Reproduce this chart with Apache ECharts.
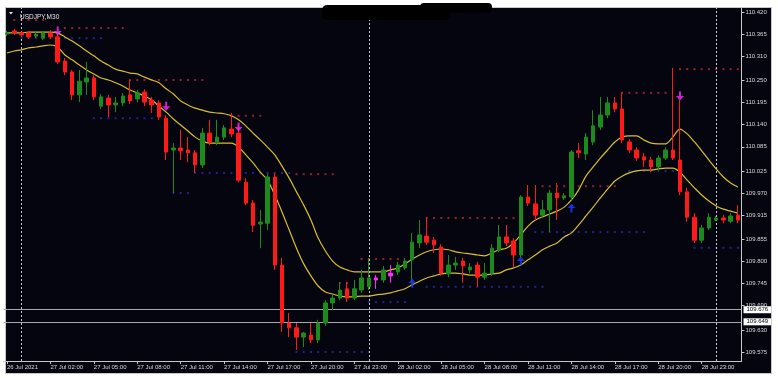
<!DOCTYPE html>
<html><head><meta charset="utf-8">
<script src="https://cdn.jsdelivr.net/npm/echarts@6/dist/echarts.min.js"></script>
<style>html,body{margin:0;padding:0;background:#fff}#c{width:778px;height:378px}</style>
</head><body><div id="c"></div>
<script>
// ---- DATA ----
const categories = [
'26 Jul 23:00','26 Jul 23:30',
'27 Jul 00:00','27 Jul 00:30','27 Jul 01:00','27 Jul 01:30','27 Jul 02:00','27 Jul 02:30','27 Jul 03:00','27 Jul 03:30',
'27 Jul 04:00','27 Jul 04:30','27 Jul 05:00','27 Jul 05:30','27 Jul 06:00','27 Jul 06:30','27 Jul 07:00','27 Jul 07:30',
'27 Jul 08:00','27 Jul 08:30','27 Jul 09:00','27 Jul 09:30','27 Jul 10:00','27 Jul 10:30','27 Jul 11:00','27 Jul 11:30',
'27 Jul 12:00','27 Jul 12:30','27 Jul 13:00','27 Jul 13:30','27 Jul 14:00','27 Jul 14:30','27 Jul 15:00','27 Jul 15:30',
'27 Jul 16:00','27 Jul 16:30','27 Jul 17:00','27 Jul 17:30','27 Jul 18:00','27 Jul 18:30','27 Jul 19:00','27 Jul 19:30',
'27 Jul 20:00','27 Jul 20:30','27 Jul 21:00','27 Jul 21:30','27 Jul 22:00','27 Jul 22:30','27 Jul 23:00','27 Jul 23:30',
'28 Jul 00:00','28 Jul 00:30','28 Jul 01:00','28 Jul 01:30','28 Jul 02:00','28 Jul 02:30','28 Jul 03:00','28 Jul 03:30',
'28 Jul 04:00','28 Jul 04:30','28 Jul 05:00','28 Jul 05:30','28 Jul 06:00','28 Jul 06:30','28 Jul 07:00','28 Jul 07:30',
'28 Jul 08:00','28 Jul 08:30','28 Jul 09:00','28 Jul 09:30','28 Jul 10:00','28 Jul 10:30','28 Jul 11:00','28 Jul 11:30',
'28 Jul 12:00','28 Jul 12:30','28 Jul 13:00','28 Jul 13:30','28 Jul 14:00','28 Jul 14:30','28 Jul 15:00','28 Jul 15:30',
'28 Jul 16:00','28 Jul 16:30','28 Jul 17:00','28 Jul 17:30','28 Jul 18:00','28 Jul 18:30','28 Jul 19:00','28 Jul 19:30',
'28 Jul 20:00','28 Jul 20:30','28 Jul 21:00','28 Jul 21:30','28 Jul 22:00','28 Jul 22:30','28 Jul 23:00','28 Jul 23:30',
'29 Jul 00:00','29 Jul 00:30','29 Jul 01:00','29 Jul 01:30'];

const xTickLabels = ['26 Jul 2021','27 Jul 02:00','27 Jul 05:00','27 Jul 08:00','27 Jul 11:00','27 Jul 14:00',
'27 Jul 17:00','27 Jul 20:00','27 Jul 23:00','28 Jul 02:00','28 Jul 05:00','28 Jul 08:00','28 Jul 11:00',
'28 Jul 14:00','28 Jul 17:00','28 Jul 20:00','28 Jul 23:00'];

const priceTicks = [109.575,109.630,109.690,109.745,109.800,109.855,109.915,109.970,110.025,110.085,
110.140,110.195,110.250,110.310,110.365,110.420];

const opens = [110.365,110.373,110.368,110.368,110.360,110.355,110.368,110.358,110.298,110.271,
110.214,110.246,110.256,110.186,110.206,110.189,110.194,110.214,110.204,110.221,
110.201,110.194,110.156,110.077,110.082,110.077,110.070,110.040,110.119,110.097,
110.109,110.129,110.119,109.997,109.945,109.893,109.895,110.010,109.791,109.647,
109.635,109.612,109.617,109.605,109.647,109.697,109.709,109.732,109.709,109.729,
109.737,109.754,109.754,109.764,109.774,109.784,109.804,109.846,109.863,109.853,
109.836,109.769,109.791,109.801,109.779,109.791,109.761,109.771,109.828,109.861,
109.851,109.816,109.960,109.943,109.915,109.928,109.970,109.958,109.960,110.075,
110.067,110.097,110.134,110.164,110.194,110.179,110.097,110.077,110.060,110.052,
110.035,110.057,110.077,110.052,109.973,109.910,109.853,109.883,109.903,109.908,
109.900,109.915];
const closes = [110.368,110.368,110.363,110.358,110.365,110.368,110.358,110.296,110.271,110.214,
110.248,110.256,110.209,110.209,110.189,110.194,110.211,110.199,110.219,110.196,
110.189,110.159,110.072,110.082,110.075,110.070,110.040,110.119,110.097,110.109,
110.132,110.117,110.002,109.945,109.890,109.898,110.010,109.791,109.647,109.635,
109.612,109.622,109.605,109.647,109.697,109.709,109.729,109.709,109.732,109.759,
109.759,109.759,109.779,109.771,109.791,109.801,109.848,109.866,109.848,109.841,
109.771,109.791,109.796,109.789,109.786,109.761,109.771,109.833,109.861,109.846,
109.816,109.960,109.945,109.915,109.928,109.970,109.958,109.963,110.072,110.070,
110.109,110.137,110.164,110.194,110.179,110.102,110.077,110.057,110.052,110.035,
110.057,110.077,110.057,109.973,109.910,109.853,109.883,109.910,109.908,109.903,
109.913,109.903];
const lows = [110.360,110.363,110.358,110.353,110.355,110.350,110.353,110.291,110.263,110.201,
110.196,110.214,110.201,110.179,110.159,110.171,110.186,110.191,110.196,110.186,
110.169,110.152,110.052,109.970,110.052,110.047,110.020,110.032,110.089,110.089,
110.102,110.109,109.997,109.940,109.873,109.833,109.878,109.779,109.625,109.612,
109.580,109.587,109.597,109.597,109.640,109.679,109.704,109.699,109.704,109.722,
109.729,109.732,109.747,109.747,109.766,109.779,109.747,109.833,109.841,109.821,
109.764,109.761,109.779,109.747,109.771,109.737,109.754,109.764,109.823,109.838,
109.786,109.809,109.938,109.903,109.908,109.873,109.903,109.953,109.953,110.057,
110.052,110.089,110.127,110.156,110.171,110.094,110.070,110.050,110.035,110.022,
110.027,110.052,110.052,109.965,109.898,109.846,109.846,109.878,109.900,109.895,
109.895,109.895];
const highs = [110.373,110.378,110.372,110.373,110.370,110.373,110.375,110.365,110.306,110.276,
110.276,110.296,110.263,110.216,110.214,110.209,110.219,110.251,110.226,110.228,
110.209,110.201,110.164,110.094,110.127,110.109,110.077,110.132,110.152,110.152,
110.139,110.169,110.139,110.007,109.953,109.928,110.017,110.020,109.809,109.672,
109.647,109.625,109.647,109.655,109.704,109.719,109.749,109.749,109.754,109.779,
109.809,109.766,109.789,109.791,109.799,109.809,109.871,109.903,109.910,109.861,
109.843,109.816,109.811,109.809,109.796,109.799,109.796,109.843,109.891,109.891,
109.858,109.965,109.990,109.990,109.953,109.978,109.995,109.970,110.077,110.094,
110.119,110.176,110.209,110.209,110.209,110.221,110.104,110.084,110.070,110.060,
110.064,110.084,110.281,110.201,109.983,109.920,109.891,109.920,109.913,109.915,
109.920,109.940];
const magentaBars = [51, 53];

const upperBand = [110.368,110.368,110.368,110.370,110.370,110.370,110.370,110.368,110.358,110.348,
110.336,110.323,110.311,110.298,110.288,110.278,110.273,110.268,110.266,110.258,
110.251,110.244,110.229,110.216,110.199,110.189,110.181,110.176,110.171,110.169,
110.167,110.162,110.152,110.137,110.119,110.102,110.084,110.065,110.037,110.007,
109.973,109.940,109.903,109.858,109.826,109.801,109.786,109.779,109.774,109.774,
109.774,109.774,109.774,109.779,109.784,109.794,109.806,109.816,109.824,109.829,
109.831,109.829,109.824,109.821,109.819,109.816,109.814,109.821,109.829,109.833,
109.846,109.866,109.888,109.903,109.911,109.918,109.925,109.935,109.953,109.978,
110.012,110.035,110.057,110.077,110.097,110.109,110.112,110.112,110.102,110.094,
110.092,110.092,110.109,110.129,110.117,110.097,110.075,110.052,110.030,110.010,
109.995,109.985];
const lowerBand = [110.318,110.323,110.326,110.331,110.333,110.336,110.338,110.333,110.313,110.301,
110.288,110.276,110.266,110.256,110.251,110.244,110.236,110.226,110.219,110.211,
110.201,110.186,110.171,110.154,110.139,110.124,110.109,110.099,110.094,110.094,
110.094,110.094,110.084,110.065,110.045,110.022,110.002,109.965,109.923,109.878,
109.833,109.794,109.764,109.739,109.724,109.719,109.714,109.712,109.712,109.714,
109.714,109.717,109.719,109.722,109.727,109.732,109.742,109.751,109.759,109.764,
109.769,109.771,109.771,109.769,109.766,109.766,109.766,109.769,109.771,109.779,
109.784,109.791,109.804,109.816,109.829,109.838,109.846,109.861,109.871,109.891,
109.913,109.935,109.958,109.980,110.000,110.012,110.020,110.025,110.027,110.027,
110.030,110.032,110.032,110.022,110.002,109.983,109.965,109.950,109.938,109.930,
109.925,109.920];

// [startBar, endBar, price]
const resistanceLevels = [[1,5,110.400],[8,16,110.380],[17,27,110.251],[31,35,110.162],[40,45,110.017],
[46,47,109.746],[49,54,109.806],[58,70,109.908],[74,84,109.987],[85,91,110.219],[93,101,110.278]];
const supportLevels = [[2,13,110.355],[12,20,110.156],[23,25,109.970],[26,39,110.020],[40,50,109.575],
[50,55,109.699],[58,74,109.737],[73,88,109.873],[86,92,110.025],[95,101,109.834]];

const sellArrows = [[7,110.373],[22,110.186],[32,110.134],[93,110.211]];
const buyArrows = [[56,109.746],[71,109.801],[78,109.933]];

const separatorBars = [2, 50, 98];
const hLines = [109.676, 109.649];
const hLineLabels = ['109.676', '109.649'];

// ---- BUILD ----
const GREEN = '#1d8a1d', RED = '#ff1a1a', MAG = '#ff2bff';
const candleData = opens.map((o, i) => {
  const item = { value: [o, closes[i], lows[i], highs[i]] };
  if (magentaBars.includes(i)) item.itemStyle = { color: MAG, color0: MAG, borderColor: MAG, borderColor0: MAG };
  return item;
});
function expand(levels) {
  const out = [];
  levels.forEach(l => { for (let k = l[0]; k <= l[1]; k++) out.push([k, l[2]]); });
  return out;
}
const downArrow = 'path://M3,0 L5,0 L5,5 L8,5 L4,10 L0,5 L3,5 Z';
const upArrow = 'path://M4,0 L8,5 L5,5 L5,10 L3,10 L3,5 L0,5 Z';
const FONT = 'Liberation Sans';

const chart = echarts.init(document.getElementById('c'), null, { renderer: 'canvas' });
chart.setOption({
  animation: false,
  backgroundColor: '#ffffff',
  title: { text: 'USDJPY,M30', left: 15, top: 9, textStyle: { color: '#e6e6e6', fontSize: 6.5, fontWeight: 'normal', fontFamily: FONT } },
  graphic: [
    { type: 'rect', z: -100, silent: true, shape: { x: 5.5, y: 7.5, width: 766, height: 366 }, style: { fill: '#05050f', stroke: '#c8c8c8', lineWidth: 1 } },
    { type: 'polygon', z: 100, silent: true, shape: { points: [[9, 12], [13, 12], [11, 14.5]] }, style: { fill: '#e6e6e6' } },
    { type: 'rect', z: 100, silent: true, shape: { x: 322, y: 5, width: 128, height: 15, r: 5 }, style: { fill: '#000000' } },
    { type: 'rect', z: 100, silent: true, shape: { x: 420, y: 3, width: 72, height: 10, r: 4 }, style: { fill: '#000000' } }
  ],
  grid: { left: 3.4, right: 36.5, top: 8, bottom: 17, containLabel: false },
  xAxis: {
    type: 'category', data: categories, boundaryGap: true,
    axisLine: { show: true, lineStyle: { color: '#c8c8c8', width: 1 } },
    axisTick: { show: true, alignWithLabel: true, length: 3, interval: (i) => i % 6 === 0, lineStyle: { color: '#c8c8c8' } },
    axisLabel: { interval: (i) => i % 6 === 0, formatter: (v, i) => (i % 6 === 0 ? xTickLabels[i / 6] : ''),
      align: 'left', color: '#d8d8d8', fontSize: 6, fontFamily: FONT, margin: 3 },
    splitLine: { show: false }
  },
  yAxis: {
    type: 'value', position: 'right', min: 109.5526, max: 110.4299, scale: true,
    splitLine: { show: false },
    axisLine: { show: true, lineStyle: { color: '#c8c8c8', width: 1 } },
    axisTick: { show: true, length: 3, customValues: priceTicks, lineStyle: { color: '#c8c8c8' } },
    axisLabel: { customValues: priceTicks, formatter: (v) => v.toFixed(3), color: '#d8d8d8', fontSize: 6, fontFamily: FONT, margin: 4 }
  },
  series: [
    {
      type: 'candlestick', data: candleData, barWidth: 4, z: 5,
      itemStyle: { color: GREEN, color0: RED, borderColor: GREEN, borderColor0: RED, borderWidth: 1 },
      markLine: {
        silent: true, symbol: 'none', animation: false,
        data: separatorBars.map(b => ({ xAxis: categories[b], lineStyle: { type: [2, 2], color: '#c8c8c8', width: 1 }, label: { show: false } }))
          .concat(hLines.map((p, k) => ({ yAxis: p, lineStyle: { type: 'solid', color: '#a9a9b3', width: 1 },
            label: { show: true, position: 'end', formatter: hLineLabels[k], backgroundColor: '#ffffff', color: '#000000',
              fontSize: 6, fontFamily: FONT, padding: [1, 3, 0, 3], distance: 2 } })))
      }
    },
    { type: 'line', data: upperBand, symbol: 'none', smooth: 0.3, z: 4, lineStyle: { color: '#d9bd2c', width: 1.2 } },
    { type: 'line', data: lowerBand, symbol: 'none', smooth: 0.3, z: 4, lineStyle: { color: '#d9bd2c', width: 1.2 } },
    { type: 'scatter', data: expand(resistanceLevels), symbol: 'rect', symbolSize: [2, 2], z: 3, itemStyle: { color: '#b82a2a' } },
    { type: 'scatter', data: expand(supportLevels), symbol: 'rect', symbolSize: [2, 2], z: 3, itemStyle: { color: '#2a2ab0' } },
    { type: 'scatter', data: sellArrows, symbol: downArrow, symbolSize: [8, 9], z: 6, itemStyle: { color: MAG } },
    { type: 'scatter', data: buyArrows, symbol: upArrow, symbolSize: [8, 9], z: 6, itemStyle: { color: '#1f3cff' } }
  ]
});
</script></body></html>
